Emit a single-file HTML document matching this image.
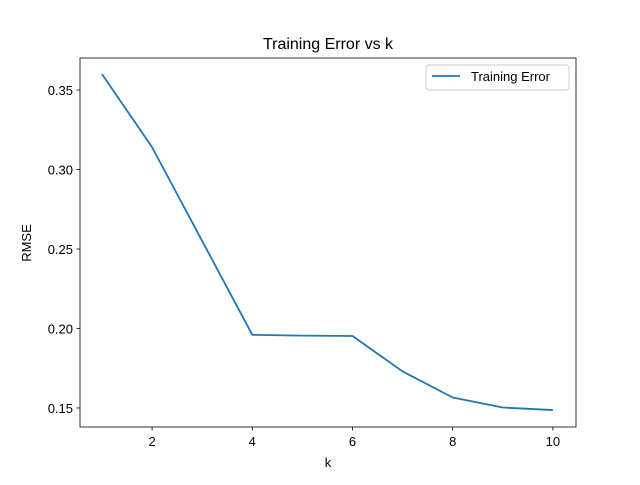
<!DOCTYPE html>
<html><head><meta charset="utf-8"><style>
body{margin:0;background:#fff}
svg text{font-family:"Liberation Sans","DejaVu Sans",sans-serif;fill:#000}
</style></head><body>
<svg id="c" width="640" height="480" xmlns="http://www.w3.org/2000/svg">
<rect width="640" height="480" fill="#fff"/>
<text x="328" y="49" font-size="16" text-anchor="middle">Training Error vs k</text>
<g id="plot"></g>
<rect x="80" y="58" width="496" height="369" fill="none" stroke="#000" stroke-width="0.8"/>
<text x="328" y="467" font-size="13" text-anchor="middle">k</text>
<text x="31" y="243" font-size="13" text-anchor="middle" transform="rotate(-90 31 243)">RMSE</text>
<g>
<rect x="426" y="65" width="143" height="25" rx="3" fill="#fff" stroke="#ccc"/>
<line x1="432" y1="76" x2="460" y2="76" stroke="#1f77b4" stroke-width="1.8"/>
<text x="471" y="81" font-size="13">Training Error</text>
</g>
</svg>
<script>
const ks=[1,2,3,4,5,6,7,8,9,10];
const rmse=[0.360,0.314,0.255,0.196,0.1955,0.1953,0.173,0.1566,0.1503,0.1487];
const xTicks=[2,4,6,8,10];
const yTicks=[0.15,0.20,0.25,0.30,0.35];
const yLabels=["0.15","0.20","0.25","0.30","0.35"];
const X=v=>102+(v-1)*50.1;
const Y=v=>408-(v-0.15)*1590;
const g=document.getElementById('plot');
const ns="http://www.w3.org/2000/svg";
function mk(t,a){const e=document.createElementNS(ns,t);for(const k in a)e.setAttribute(k,a[k]);g.appendChild(e);return e;}
xTicks.forEach(v=>{
const l=mk('line',{x1:X(v),x2:X(v),y1:427,y2:430.5,stroke:'#000','stroke-width':0.8});


const t=mk('text',{x:X(v),y:446,'font-size':13,'text-anchor':'middle'});t.textContent=v;


});
yTicks.forEach((v,i)=>{
const l=mk('line',{x1:76.5,x2:80,y1:Y(v),y2:Y(v),stroke:'#000','stroke-width':0.8});


const t=mk('text',{x:73,y:Y(v)+5,'font-size':13,'text-anchor':'end'});t.textContent=yLabels[i];


});
const p=mk('polyline',{points:ks.map((k,i)=>X(k)+','+Y(rmse[i])).join(' '),fill:'none',stroke:'#1f77b4','stroke-width':1.8,'stroke-linejoin':'round'});


</script>
</body></html>
